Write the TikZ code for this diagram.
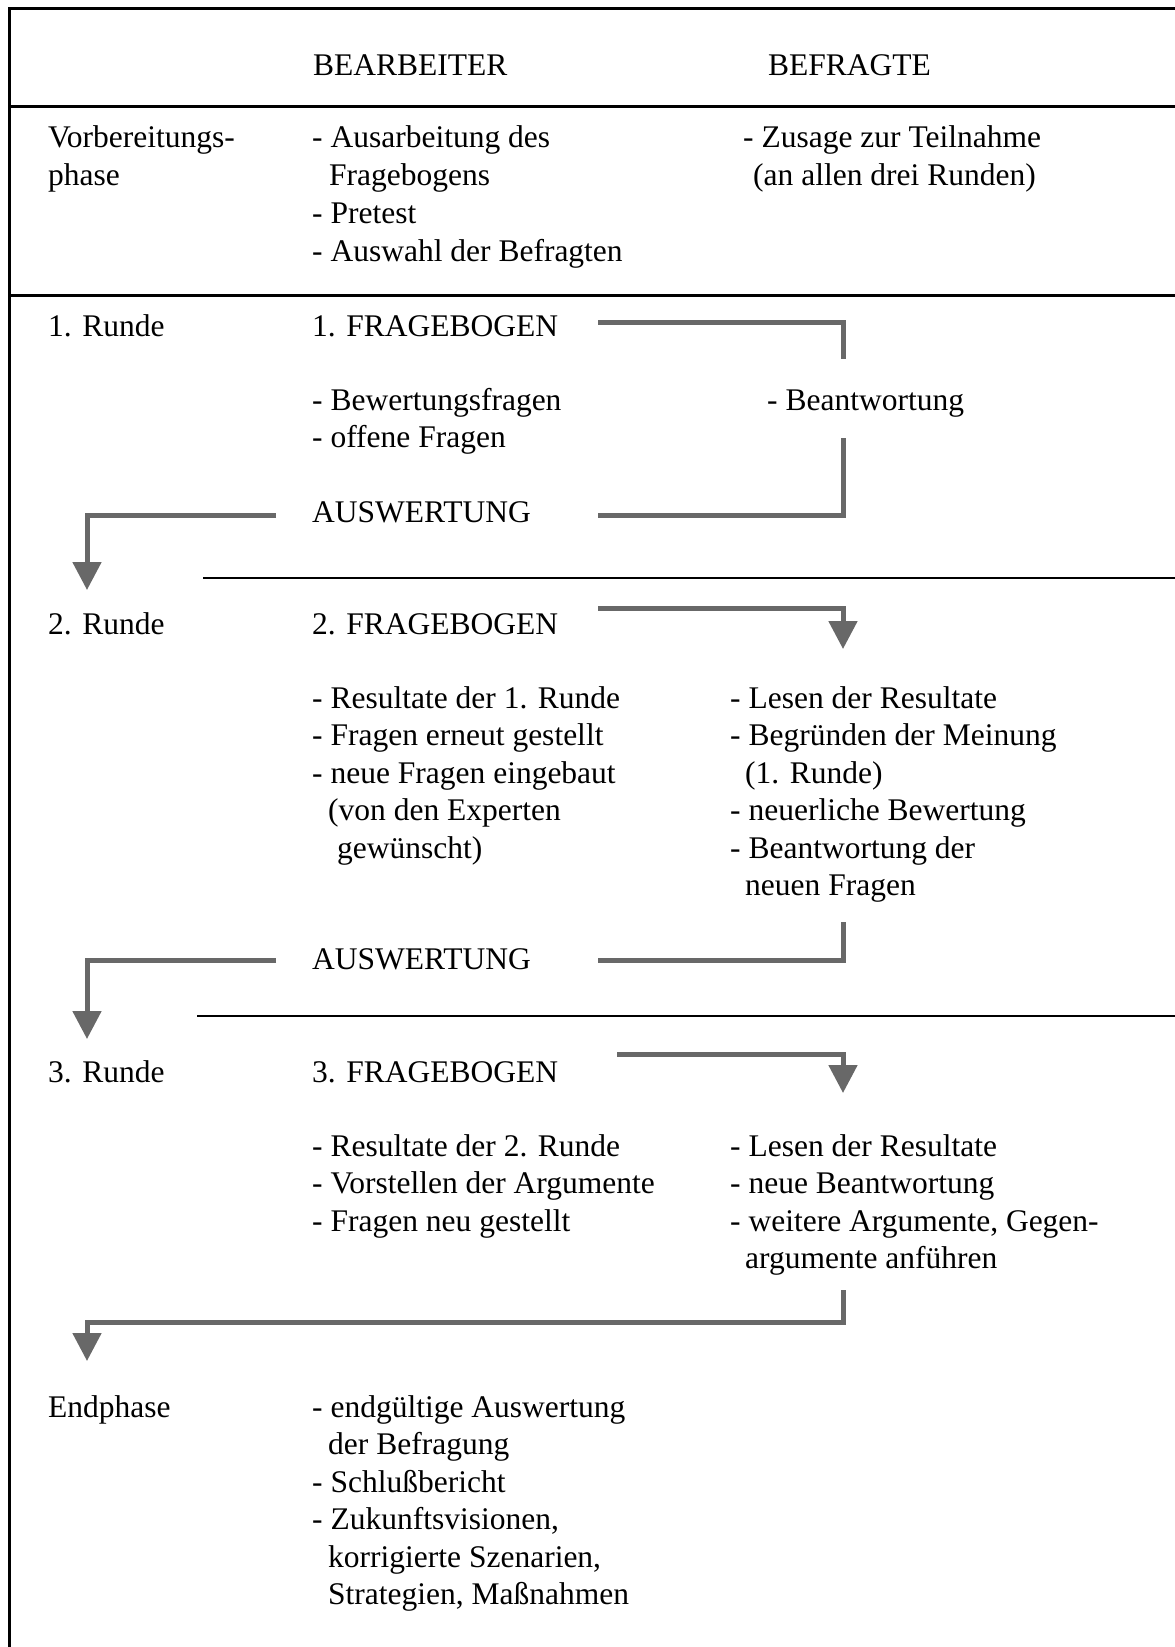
\documentclass[tikz,border=0pt]{standalone}
\usepackage{fontspec}
\setmainfont{Liberation Serif}
\usetikzlibrary{arrows.meta}
\definecolor{flowgray}{RGB}{104,104,104}
\begin{document}
\begin{tikzpicture}[x=1pt,y=-1pt,
  txt/.style={anchor=base west, inner sep=0pt, font=\fontsize{31.5}{37.5}\selectfont},
  frameline/.style={line width=3pt, black, line cap=rect},
  thinline/.style={line width=1.5pt, black},
  flow/.style={line width=5pt, draw=flowgray, line join=miter},
  flowtip/.style={flow, -{Triangle[width=28pt,length=28pt,fill=flowgray]}}]
\useasboundingbox (0,0) rectangle (1175,1647);
\fill[white] (0,0) rectangle (1175,1647);

% frame and separators
\draw[frameline] (9,1647) -- (9,8) -- (1175,8);
\draw[frameline] (9,106) -- (1175,106);
\draw[frameline] (9,295) -- (1175,295);
\draw[thinline] (203,578) -- (1175,578);
\draw[thinline] (197,1016) -- (1175,1016);

% header
\node[txt] (hBear) at (313,75) {BEARBEITER};
\node[txt] (hBefr) at (768,75) {BEFRAGTE};

% Vorbereitungsphase
\node[txt] (vp1) at (48,147) {Vorbereitungs-};
\node[txt] (vp2) at (48,185) {phase};
\node[txt] (vb1) at (312,147) {- Ausarbeitung des};
\node[txt] (vb2) at (329,185) {Fragebogens};
\node[txt] (vb3) at (312,223) {- Pretest};
\node[txt] (vb4) at (312,261) {- Auswahl der Befragten};
\node[txt] (vf1) at (743,147) {- Zusage zur Teilnahme};
\node[txt] (vf2) at (753,185) {(an allen drei Runden)};

% 1. Runde
\node[txt] (r1) at (48,336) {1. Runde};
\node[txt] (f1) at (312,336) {1. FRAGEBOGEN};
\node[txt] (b11) at (312,410) {- Bewertungsfragen};
\node[txt] (b12) at (312,447) {- offene Fragen};
\node[txt] (a11) at (767,410) {- Beantwortung};
\node[txt] (aw1) at (312,522) {AUSWERTUNG};

% 2. Runde
\node[txt] (r2) at (48,634) {2. Runde};
\node[txt] (f2) at (312,634) {2. FRAGEBOGEN};
\node[txt] (b21) at (312,708) {- Resultate der 1. Runde};
\node[txt] (b22) at (312,745.5) {- Fragen erneut gestellt};
\node[txt] (b23) at (312,783) {- neue Fragen eingebaut};
\node[txt] (b24) at (328,820.5) {(von den Experten};
\node[txt] (b25) at (337,858) {gewünscht)};
\node[txt] (a21) at (730,708) {- Lesen der Resultate};
\node[txt] (a22) at (730,745.5) {- Begründen der Meinung};
\node[txt] (a23) at (745,783) {(1. Runde)};
\node[txt] (a24) at (730,820.5) {- neuerliche Bewertung};
\node[txt] (a25) at (730,858) {- Beantwortung der};
\node[txt] (a26) at (745,895.5) {neuen Fragen};
\node[txt] (aw2) at (312,969) {AUSWERTUNG};

% 3. Runde
\node[txt] (r3) at (48,1082) {3. Runde};
\node[txt] (f3) at (312,1082) {3. FRAGEBOGEN};
\node[txt] (b31) at (312,1156) {- Resultate der 2. Runde};
\node[txt] (b32) at (312,1193.5) {- Vorstellen der Argumente};
\node[txt] (b33) at (312,1231) {- Fragen neu gestellt};
\node[txt] (a31) at (730,1156) {- Lesen der Resultate};
\node[txt] (a32) at (730,1193.5) {- neue Beantwortung};
\node[txt] (a33) at (730,1231) {- weitere Argumente, Gegen-};
\node[txt] (a34) at (745,1268.5) {argumente anführen};

% Endphase
\node[txt] (ep) at (48,1417) {Endphase};
\node[txt] (e1) at (312,1417) {- endgültige Auswertung};
\node[txt] (e2) at (328,1454.5) {der Befragung};
\node[txt] (e3) at (312,1492) {- Schlußbericht};
\node[txt] (e4) at (312,1529.5) {- Zukunftsvisionen,};
\node[txt] (e5) at (328,1567) {korrigierte Szenarien,};
\node[txt] (e6) at (328,1604.5) {Strategien, Maßnahmen};

% connector coordinates
\coordinate (p1s) at (598,322);
\coordinate (p1c) at (843,322);
\coordinate (p1e) at (843,359);
\coordinate (q1s) at (843,438);
\coordinate (q1c) at (843,515);
\coordinate (q1e) at (598,515);
\coordinate (l1s) at (276,515);
\coordinate (l1c) at (87,515);
\coordinate (l1e) at (87,590);

\coordinate (p2s) at (598,608);
\coordinate (p2c) at (843,608);
\coordinate (p2e) at (843,649);
\coordinate (q2s) at (843,922);
\coordinate (q2c) at (843,960);
\coordinate (q2e) at (598,960);
\coordinate (l2s) at (276,960);
\coordinate (l2c) at (87,960);
\coordinate (l2e) at (87,1039);

\coordinate (p3s) at (617,1054);
\coordinate (p3c) at (843,1054);
\coordinate (p3e) at (843,1093);
\coordinate (q3s) at (843,1290);
\coordinate (q3c) at (843,1322);
\coordinate (l3c) at (87,1322);
\coordinate (l3e) at (87,1361);

% connectors
\draw[flow] (p1s) -- (p1c) -- (p1e);
\draw[flow] (q1s) -- (q1c) -- (q1e);
\draw[flowtip] (l1s) -- (l1c) -- (l1e);
\draw[flowtip] (p2s) -- (p2c) -- (p2e);
\draw[flow] (q2s) -- (q2c) -- (q2e);
\draw[flowtip] (l2s) -- (l2c) -- (l2e);
\draw[flowtip] (p3s) -- (p3c) -- (p3e);
\draw[flowtip] (q3s) -- (q3c) -- (l3c) -- (l3e);
\end{tikzpicture}
\end{document}
